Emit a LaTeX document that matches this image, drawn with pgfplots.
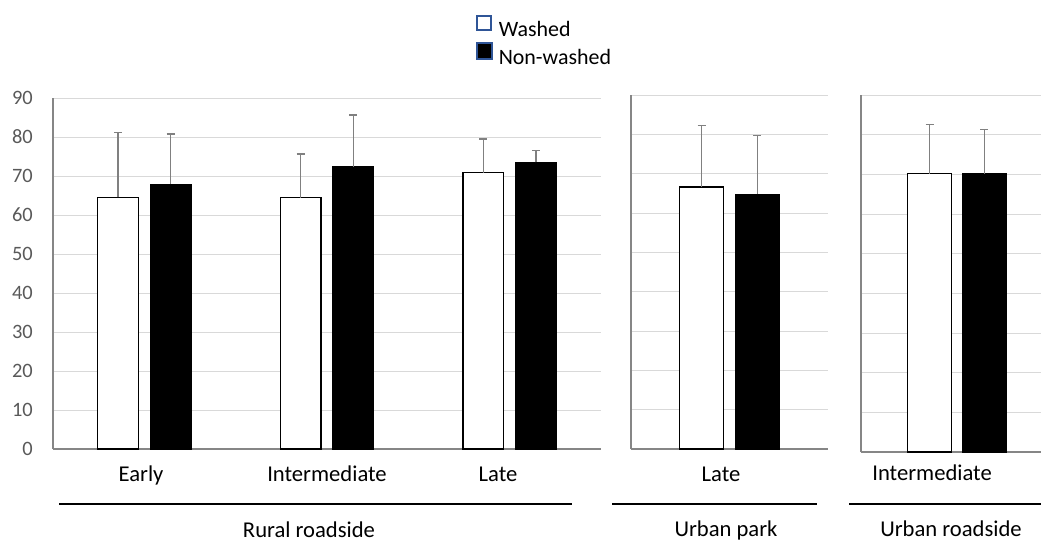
\documentclass[border=0pt]{standalone}
\usepackage{pgfplots}
\pgfplotsset{compat=1.18}
\usepackage{fontspec}
\setmainfont{Carlito}

\definecolor{gridgray}{HTML}{D9D9D9}
\definecolor{axisgray}{HTML}{868686}
\definecolor{errgray}{HTML}{808080}
\definecolor{ticktext}{HTML}{595959}
\definecolor{legendblue}{HTML}{2F5597}

\pgfplotsset{
  panel/.style={
    scale only axis, anchor=south west,
    ymin=0, ymax=90, ytick={0,10,...,90},
    ymajorgrids, grid style={gridgray, line width=1bp},
    axis x line*=bottom, axis y line*=left,
    axis line style={-, draw=axisgray, line width=1.3bp},
    major tick length=0pt,
    xticklabel style={anchor=base, yshift=-32bp, font=\fontsize{22.7}{27}\selectfont},
    error bars/y dir=plus, error bars/y explicit,
    error bars/error bar style={errgray, line width=1.5bp},
    error bars/error mark options={rotate=90, errgray, mark size=4bp, line width=1.5bp},
  },
  % washed bars sit 0.144 left of the category, non-washed 0.144 right
  washed/.style={ybar, bar shift=0pt, fill=white, draw=black, line width=1.2bp, forget plot},
  nonwashed/.style={ybar, bar shift=0pt, fill=black, draw=black, line width=1.2bp, forget plot},
}

\begin{document}
\begin{tikzpicture}
\useasboundingbox (0bp,0bp) rectangle (1041bp,-541bp);

% Rural roadside: three stages
\begin{axis}[panel,
  at={(53bp,-449bp)}, width=548bp, height=351bp,
  xmin=-0.5, xmax=2.5, bar width=0.223,
  xtick={-0.018,1.0,1.936}, xticklabels={Early,Intermediate,Late},
  yticklabel style={font=\fontsize{20.5}{24}\selectfont, text=ticktext,
    anchor=east, inner sep=0pt, xshift=-20bp},
  /pgf/number format/assume math mode=true,
  legend cell align=left,
  legend style={at={(0.772,1.237)}, anchor=north west, draw=none, fill=none,
    inner sep=0pt, font=\fontsize{22}{26}\selectfont, row sep=1bp,
    nodes={inner sep=0pt, text height=16bp, text depth=5bp},
    /tikz/every odd column/.append style={column sep=6bp}},
]
\addplot[washed] coordinates {(-0.144,64.5) +- (0,16.7) (0.856,64.4) +- (0,11.3) (1.856,70.8) +- (0,8.7)};
\addplot[nonwashed] coordinates {(0.144,67.9) +- (0,12.9) (1.144,72.3) +- (0,13.3) (2.144,73.5) +- (0,3.0)};
\addlegendimage{legend image code/.code={\draw[fill=white, draw=legendblue, line width=1.5bp] (0bp,1bp) rectangle (14bp,15bp);}}
\addlegendentry{Washed}
\addlegendimage{legend image code/.code={\draw[fill=black, draw=legendblue, line width=1.5bp] (0bp,0bp) rectangle (15bp,16bp);}}
\addlegendentry{Non-washed}
\end{axis}

% Urban park
\begin{axis}[panel,
  at={(631bp,-449bp)}, width=197bp, height=354bp,
  xmin=-0.5, xmax=0.5, bar width=0.223,
  xtick={-0.043}, xticklabels={Late}, yticklabels={},
]
\addplot[washed] coordinates {(-0.142,66.6) +- (0,15.7)};
\addplot[nonwashed] coordinates {(0.142,64.8) +- (0,14.9)};
\end{axis}

% Urban roadside
\begin{axis}[panel,
  at={(861bp,-452bp)}, width=180bp, height=357bp,
  xmin=-0.5, xmax=0.4375, bar width=0.229,
  xtick={-0.13}, xticklabels={Intermediate}, yticklabels={},
  xticklabel style={yshift=4bp},
]
\addplot[washed] coordinates {(-0.143,70.2) +- (0,12.4)};
\addplot[nonwashed] coordinates {(0.143,70.2) +- (0,11.1)};
\end{axis}

% site groups
\draw[line width=1.2bp] (59bp,-504bp) -- (572bp,-504bp);
\draw[line width=1.2bp] (612bp,-504bp) -- (817bp,-504bp);
\draw[line width=1.2bp] (849bp,-504bp) -- (1041bp,-504bp);
\node[anchor=base, inner sep=0pt, font=\fontsize{22.7}{27}\selectfont] at (309bp,-537bp) {Rural roadside};
\node[anchor=base, inner sep=0pt, font=\fontsize{22.7}{27}\selectfont] at (726bp,-536bp) {Urban park};
\node[anchor=base, inner sep=0pt, font=\fontsize{22.7}{27}\selectfont] at (951bp,-536bp) {Urban roadside};
\end{tikzpicture}
\end{document}
